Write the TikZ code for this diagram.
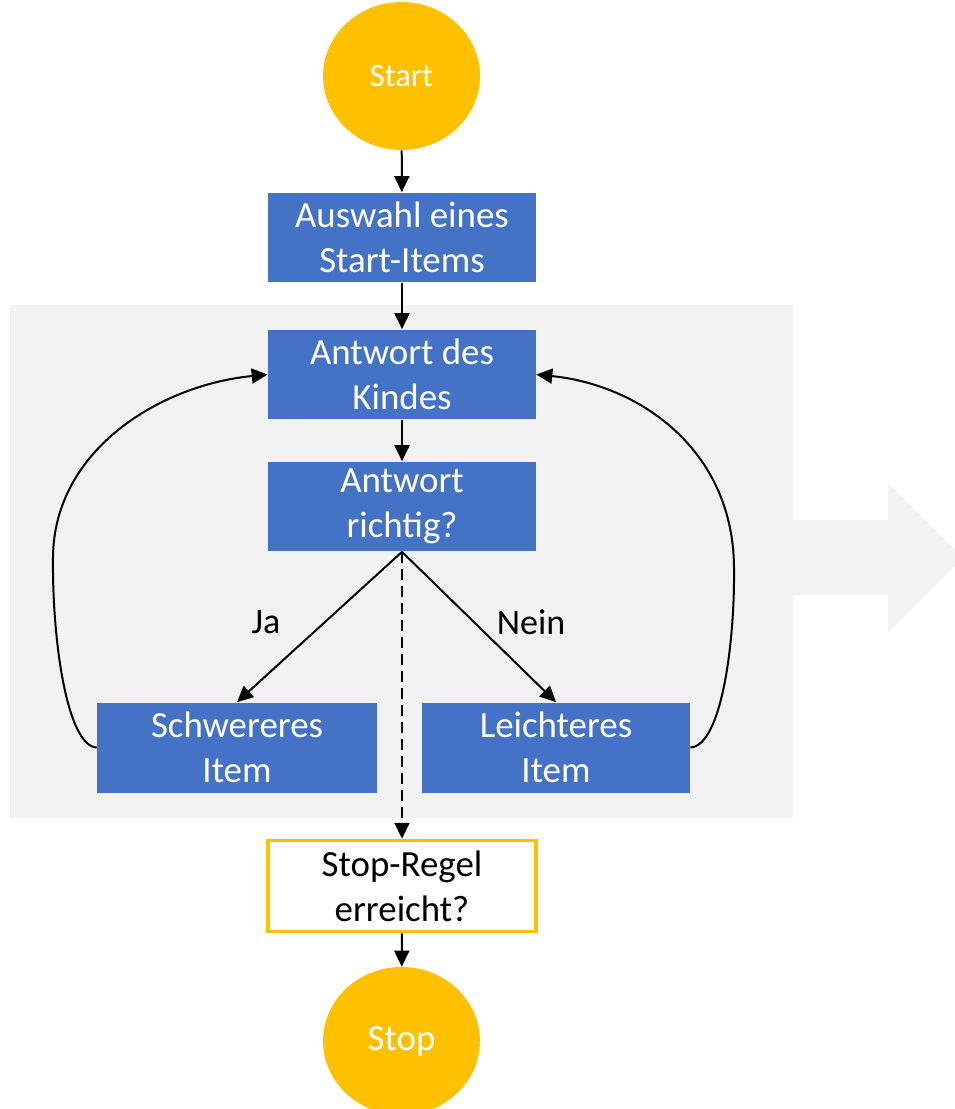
\documentclass[tikz,border=0pt]{standalone}
\usepackage{fontspec}
\setmainfont{Carlito}
\usetikzlibrary{arrows.meta,shapes.geometric}
\definecolor{boxblue}{HTML}{4472C4}
\definecolor{ampel}{HTML}{FFC000}
\definecolor{hell}{HTML}{F2F2F2}
\begin{document}
\begin{tikzpicture}[x=0.02cm, y=-0.02cm,
    kreis/.style={ellipse, fill=ampel, text=white, inner sep=0pt,
      minimum width=3.14cm, minimum height=2.96cm},
    kasten/.style={rectangle, fill=boxblue, text=white, align=center, inner sep=0pt,
      minimum width=5.36cm, minimum height=1.8cm, font=\fontsize{21}{25.5}\selectfont},
    pfeil/.style={-{Triangle[length=0.32cm, width=0.3cm]}, line width=0.04cm}]
  \useasboundingbox (0,0) rectangle (954,1109);
  % Hintergrund
  \fill[hell] (10,305) rectangle (793,818);
  \fill[hell] (793,520) -- (888,520) -- (888,483) -- (963,558) -- (888,633) -- (888,595) -- (793,595) -- cycle;
  % Knoten
  \node[kreis, font=\fontsize{18.5}{22}\selectfont] (start) at (401.5,76) {Start};
  \node[kasten] (auswahl) at (402,237.5) {Auswahl eines\\Start-Items};
  \node[kasten] (kind) at (402,374.5) {Antwort des\\Kindes};
  \node[kasten] (richtig) at (402,506.5) {Antwort\\richtig?};
  \node[kasten, minimum width=5.6cm] (schwer) at (237,747.5) {Schwereres\\Item};
  \node[kasten] (leicht) at (556,747.5) {Leichteres\\Item};
  \node[kasten, fill=white, text=black, draw=ampel, line width=0.07cm,
    minimum width=5.36cm, minimum height=1.82cm] (regel) at (402,886) {Stop-Regel\\erreicht?};
  \node[kreis, font=\fontsize{21}{25}\selectfont] (stop) at (401.5,1041) {Stop};
  % Beschriftungen
  \node[font=\fontsize{20.5}{24}\selectfont] (ja) at (266,622) {Ja};
  \node[font=\fontsize{20.5}{24}\selectfont] (nein) at (531,622) {Nein};
  % Pfeile
  \draw[pfeil] (start) -- (auswahl);
  \draw[pfeil] (auswahl) -- (kind);
  \draw[pfeil] (kind) -- (richtig);
  \draw[pfeil] (richtig.south) -- (schwer.north);
  \draw[pfeil] (richtig.south) -- (leicht.north);
  \draw[pfeil, dash pattern=on 0.22cm off 0.12cm] (richtig.south) -- (regel.north);
  \draw[pfeil] (regel) -- (stop);
  % Schleifen
  \draw[pfeil] (schwer.west) .. controls (67,746) and (52,640) .. (53,557)
    .. controls (54,450) and (160,385) .. (kind.west);
  \draw[pfeil] (leicht.east) .. controls (722,746) and (735,640) .. (734,567)
    .. controls (733,450) and (640,385) .. (kind.east);
\end{tikzpicture}
\end{document}
